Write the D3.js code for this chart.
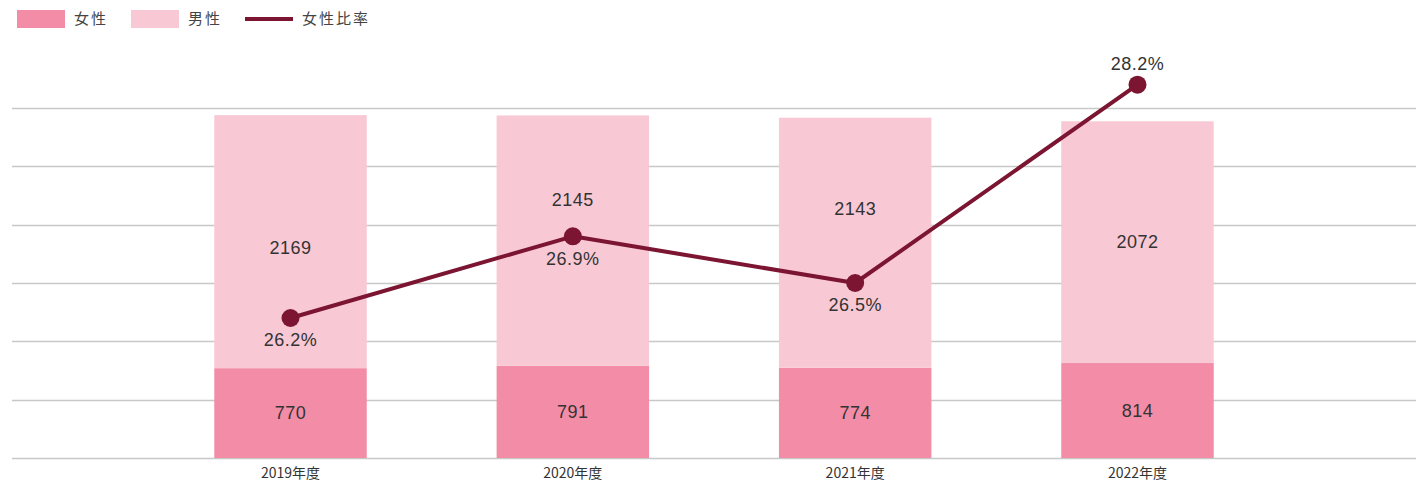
<!DOCTYPE html>
<html lang="ja">
<head>
<meta charset="utf-8">
<script src="https://cdn.jsdelivr.net/npm/d3@7"></script>
<style>
  body { margin: 0; background: #fff; }
  svg { display: block; }
</style>
</head>
<body>
<div id="chart"></div>
<script>
// データ
const years = ["2019年度", "2020年度", "2021年度", "2022年度"];
const female = [770, 791, 774, 814];
const male = [2169, 2145, 2143, 2072];
const femaleRatio = [26.2, 26.9, 26.5, 28.2];
const yTicks = [0, 500, 1000, 1500, 2000, 2500, 3000];

const width = 1416, height = 485;
const margin = { top: 108, right: 0, bottom: 27, left: 12 };
const cjk = "'Noto Sans CJK JP', 'Noto Sans', sans-serif";
const num = "'Liberation Sans', Arial, Helvetica, sans-serif";

const colFemale = "#f38ca7";
const colMale = "#f8c9d5";
const colLine = "#7b1531";

const svg = d3.select("#chart").append("svg")
    .attr("width", width).attr("height", height);

const x = d3.scaleBand()
    .domain(years)
    .range([margin.left, width - margin.right])
    .paddingInner(0.46)
    .paddingOuter(0.7165);

const y = d3.scaleLinear()
    .domain([0, 3000])
    .range([height - margin.bottom, margin.top]);

// 比率用（軸は非表示）
const y2 = d3.scaleLinear()
    .domain([25, 28])
    .range([height - margin.bottom, margin.top]);

// グリッド
svg.append("g")
    .selectAll("line")
    .data(yTicks)
    .join("line")
    .attr("x1", margin.left)
    .attr("x2", width - margin.right)
    .attr("y1", d => Math.round(y(d)) + 0.5)
    .attr("y2", d => Math.round(y(d)) + 0.5)
    .attr("stroke", "#c8c8c8")
    .attr("stroke-width", 1.5);

// 積み上げ棒
const stackData = years.map((yr, i) => ({ year: yr, female: female[i], male: male[i] }));
const series = d3.stack().keys(["female", "male"])(stackData);
const colors = { female: colFemale, male: colMale };

svg.append("g")
    .selectAll("g")
    .data(series)
    .join("g")
    .attr("fill", s => colors[s.key])
    .selectAll("rect")
    .data(s => s)
    .join("rect")
    .attr("x", d => x(d.data.year))
    .attr("width", x.bandwidth())
    .attr("y", d => y(d[1]))
    .attr("height", d => y(d[0]) - y(d[1]));

const valueText = sel => sel
    .attr("dy", "0.35em")
    .attr("text-anchor", "middle")
    .style("font-family", num)
    .style("font-size", "18px")
    .style("letter-spacing", "0.5px")
    .style("fill", "#333");

// 棒の値ラベル（男性は折れ線と重ならないよう少しずらす）
const maleShift = [6, -41, -34, 0];
svg.append("g")
    .selectAll("text")
    .data(stackData)
    .join("text")
    .attr("x", d => x(d.year) + x.bandwidth() / 2)
    .attr("y", d => (y(0) + y(d.female)) / 2)
    .call(valueText)
    .text(d => d.female);

svg.append("g")
    .selectAll("text")
    .data(stackData)
    .join("text")
    .attr("x", d => x(d.year) + x.bandwidth() / 2)
    .attr("y", (d, i) => (y(d.female) + y(d.female + d.male)) / 2 + maleShift[i])
    .call(valueText)
    .text(d => d.male);

// 折れ線
const pts = years.map((yr, i) => ({ year: yr, v: femaleRatio[i] }));
const cx = d => x(d.year) + x.bandwidth() / 2;

svg.append("path")
    .datum(pts)
    .attr("fill", "none")
    .attr("stroke", colLine)
    .attr("stroke-width", 4)
    .attr("stroke-linejoin", "round")
    .attr("d", d3.line().x(cx).y(d => y2(d.v)));

svg.append("g")
    .selectAll("circle")
    .data(pts)
    .join("circle")
    .attr("cx", cx)
    .attr("cy", d => y2(d.v))
    .attr("r", 9)
    .attr("fill", colLine);

// 比率ラベル（最後だけ上に）
svg.append("g")
    .selectAll("text")
    .data(pts)
    .join("text")
    .attr("x", cx)
    .attr("y", (d, i) => y2(d.v) + (i === pts.length - 1 ? -21 : 22))
    .call(valueText)
    .text(d => d.v.toFixed(1) + "%");

// X軸
const xAxis = svg.append("g")
    .attr("transform", `translate(0,${height - margin.bottom})`)
    .call(d3.axisBottom(x).tickSize(0).tickPadding(10));
xAxis.select(".domain").remove();
xAxis.selectAll("text")
    .style("font-family", cjk)
    .style("font-size", "14px")
    .style("fill", "#333");

// 凡例
const legend = svg.append("g").attr("transform", "translate(17,10)");
const legendItems = [
    { label: "女性", type: "rect", color: colFemale, x: 0 },
    { label: "男性", type: "rect", color: colMale, x: 114 },
    { label: "女性比率", type: "line", color: colLine, x: 228 }
];
legendItems.forEach(it => {
    const g = legend.append("g").attr("transform", `translate(${it.x},0)`);
    if (it.type === "rect") {
        g.append("rect").attr("width", 48).attr("height", 18).attr("fill", it.color);
    } else {
        g.append("line").attr("x1", 0).attr("x2", 48).attr("y1", 9).attr("y2", 9)
            .attr("stroke", it.color).attr("stroke-width", 4);
    }
    g.append("text")
        .attr("x", 57).attr("y", 9).attr("dy", "0.35em")
        .style("font-family", cjk)
        .style("font-size", "15px")
        .style("letter-spacing", "2px")
        .style("fill", "#444")
        .text(it.label);
});
</script>
</body>
</html>
